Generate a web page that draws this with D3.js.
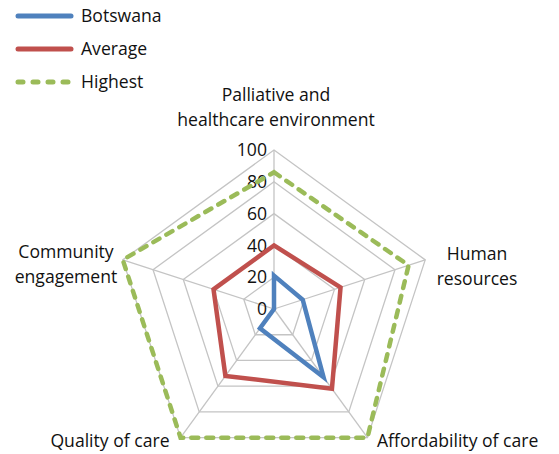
<!DOCTYPE html>
<html>
<head>
<meta charset="utf-8">
<script src="https://cdn.jsdelivr.net/npm/d3@7"></script>
<style>
  body { margin: 0; background: #fff; }
  svg text { font-family: "Open Sans", "Noto Sans", sans-serif; fill: #111; }
</style>
</head>
<body>
<svg id="chart" width="559" height="454"></svg>
<script>
// axes (clockwise from top)
const axes = [
  ["Palliative and", "healthcare environment"],
  ["Human", "resources"],
  ["Affordability of care"],
  ["Quality of care"],
  ["Community", "engagement"]
];
const ticks = [0, 20, 40, 60, 80, 100];

const seriesNames = ["Botswana", "Average", "Highest"];
const botswana = [21, 19, 53, 15, 0];
const average = [40, 44, 62, 52, 40];
const highest = [86, 89, 100, 100, 100];

const colors = ["#4f81bd", "#c0504d", "#9bbb59"];

const svg = d3.select("#chart");
const cx = 274, cy = 309, R = 159;
const fs = 17.6;

const r = d3.scaleLinear().domain([0, 100]).range([0, R]);
const angle = d3.scaleLinear().domain([0, axes.length]).range([0, 2 * Math.PI]);
const pt = (i, v) => [cx + r(v) * Math.sin(angle(i)), cy - r(v) * Math.cos(angle(i))];

// grid
const grid = svg.append("g").attr("stroke", "#c4c4c4").attr("stroke-width", 1.3).attr("fill", "none");
ticks.slice(1).forEach(t => {
  grid.append("path").attr("d", d3.line()(axes.map((a, i) => pt(i, t))) + "Z");
});
axes.forEach((a, i) => {
  const [x, y] = pt(i, 100);
  grid.append("line").attr("x1", cx).attr("y1", cy).attr("x2", x).attr("y2", y);
});

// tick labels
svg.append("g").selectAll("text").data(ticks).join("text")
  .attr("x", cx - 7)
  .attr("y", d => cy - r(d))
  .attr("dy", "0.35em")
  .attr("text-anchor", "end")
  .attr("font-size", fs)
  .text(d => d);

// series
const data = [botswana, average, highest];
data.forEach((vals, k) => {
  const p = svg.append("path")
    .attr("d", d3.line()(vals.map((v, i) => pt(i, v))) + "Z")
    .attr("fill", "none")
    .attr("stroke", colors[k])
    .attr("stroke-width", 4.5)
    .attr("stroke-linejoin", "miter");
  if (k === 2) p.attr("stroke-dasharray", "7 8").attr("stroke-linecap", "round");
});

// axis labels
const labelPos = [
  { x: 276, y: 101, anchor: "middle" },
  { x: 477, y: 260, anchor: "middle" },
  { x: 377, y: 447, anchor: "start" },
  { x: 110, y: 447, anchor: "middle" },
  { x: 66, y: 258, anchor: "middle" }
];
axes.forEach((lines, i) => {
  const t = svg.append("text")
    .attr("x", labelPos[i].x)
    .attr("y", labelPos[i].y)
    .attr("text-anchor", labelPos[i].anchor)
    .attr("font-size", fs);
  lines.forEach((l, j) => t.append("tspan").attr("x", labelPos[i].x).attr("dy", j ? 25 : 0).text(l));
});

// legend
const legend = svg.append("g");
seriesNames.forEach((name, k) => {
  const y = 16 + k * 33;
  const l = legend.append("line")
    .attr("x1", 18).attr("x2", 71).attr("y1", y).attr("y2", y)
    .attr("stroke", colors[k]).attr("stroke-width", 5).attr("stroke-linecap", "round");
  if (k === 2) l.attr("stroke-dasharray", "5 10");
  legend.append("text").attr("x", 81).attr("y", y).attr("dy", "0.35em")
    .attr("font-size", fs).text(name);
});
</script>
</body>
</html>
